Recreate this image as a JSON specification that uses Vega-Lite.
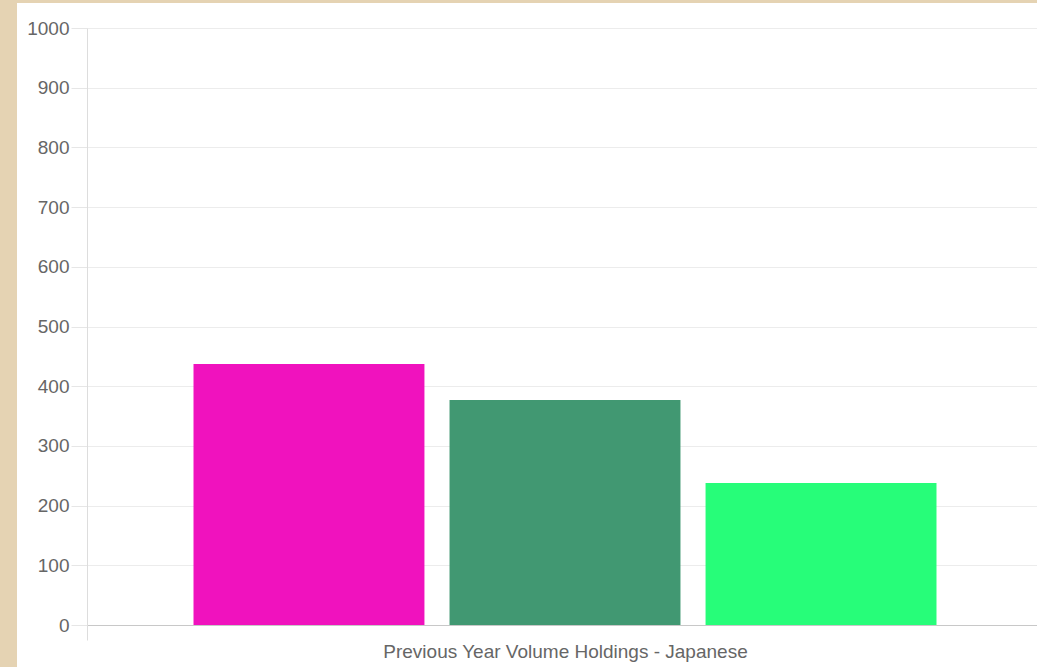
{
  "$schema": "https://vega.github.io/schema/vega-lite/v6.json",
  "autosize": {"type": "none"},
  "width": 1020,
  "height": 664,
  "padding": {"left": 17, "top": 3, "right": 0, "bottom": 0},
  "background": "#E5D3B3",
  "config": {
    "view": {"fill": "white", "stroke": null},
    "axis": {"labelFont": "Liberation Sans", "labelFontSize": 19, "labelColor": "#666666"}
  },
  "data": {
    "values": [
      {"category": "Previous Year Volume Holdings - Japanese", "series": "A", "value": 437},
      {"category": "Previous Year Volume Holdings - Japanese", "series": "B", "value": 377},
      {"category": "Previous Year Volume Holdings - Japanese", "series": "C", "value": 238}
    ]
  },
  "mark": {"type": "bar"},
  "encoding": {
    "x": {
      "field": "category",
      "type": "nominal",
      "scale": {"range": [70, 1026], "paddingInner": 0, "paddingOuter": 0},
      "axis": {
        "title": null,
        "labelAngle": 0,
        "labelLimit": 0,
        "offset": -42,
        "ticks": true,
        "tickBand": "extent",
        "tickSize": 15,
        "tickColor": "#dddddd",
        "domainColor": "#c8c8c8",
        "labelPadding": 2,
        "grid": false
      }
    },
    "xOffset": {
      "field": "series",
      "type": "nominal",
      "scale": {"paddingInner": 0.098, "paddingOuter": 0.416}
    },
    "y": {
      "field": "value",
      "type": "quantitative",
      "scale": {"domain": [0, 1000], "range": [622, 25], "nice": false, "zero": true},
      "axis": {
        "title": null,
        "offset": -70,
        "format": "d",
        "values": [0, 100, 200, 300, 400, 500, 600, 700, 800, 900, 1000],
        "grid": true,
        "gridColor": "#ececec",
        "tickColor": "#e6e6e6",
        "tickSize": 16,
        "labelPadding": 2,
        "domainColor": "#dddddd"
      }
    },
    "color": {
      "field": "series",
      "type": "nominal",
      "scale": {"domain": ["A", "B", "C"], "range": ["#F012BE", "#419872", "#27FD79"]},
      "legend": null
    }
  }
}
